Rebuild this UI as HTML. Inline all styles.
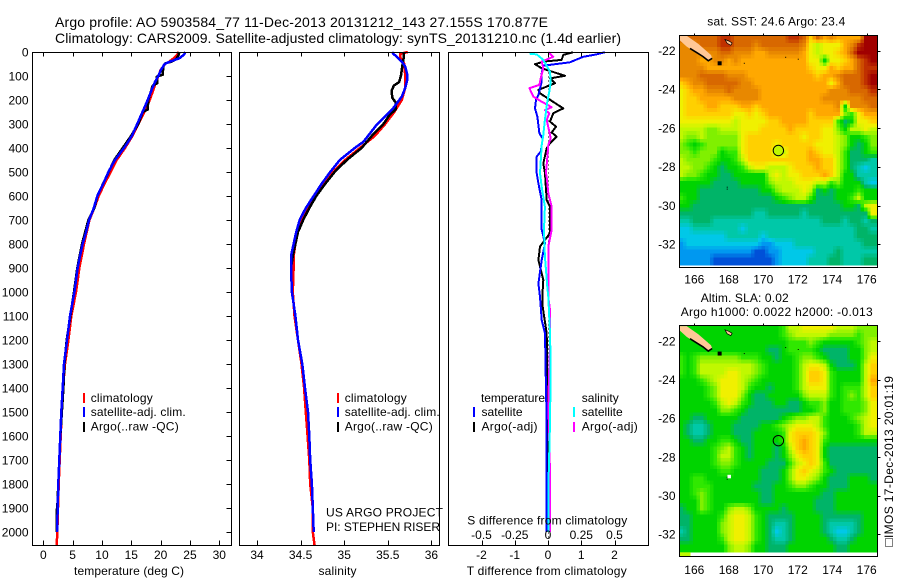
<!DOCTYPE html>
<html lang="en">
<head>
<meta charset="utf-8">
<title>Argo profile 5903584_77</title>
<style>
html,body{margin:0;padding:0;background:#fff;}
svg{display:block;}
text{font-family:"Liberation Sans",sans-serif;font-size:12px;fill:#000;}
</style>
</head>
<body>
<svg id="chart" width="900" height="580" viewBox="0 0 900 580" xmlns="http://www.w3.org/2000/svg">
<rect x="0" y="0" width="900" height="580" fill="#fff"/>
<text x="55" y="27" textLength="493" style="font-size:14px">Argo profile: AO 5903584_77 11-Dec-2013 20131212_143 27.155S 170.877E</text>
<text x="55" y="43" textLength="566" style="font-size:14px">Climatology: CARS2009. Satellite-adjusted climatology: synTS_20131210.nc (1.4d earlier)</text>
<g id="panelT"></g>
<g id="panelS"></g>
<g id="panelD"></g>
<g id="mapSST"></g>
<g id="mapSLA"></g>
<text x="74" y="575" textLength="110">temperature (deg C)</text>
<text x="318.5" y="575" textLength="38">salinity</text>
<text x="466.7" y="575" textLength="160">T difference from climatology</text>
<text x="467.3" y="524.3" textLength="160">S difference from climatology</text>
<text x="326" y="516.7" textLength="117">US ARGO PROJECT</text>
<text x="326" y="531" textLength="114">PI: STEPHEN RISER</text>
<g>
<line x1="84" x2="84" y1="393" y2="403" stroke="#f00" stroke-width="2"/>
<line x1="84" x2="84" y1="407" y2="417" stroke="#00f" stroke-width="2"/>
<line x1="84" x2="84" y1="422" y2="432" stroke="#000" stroke-width="2"/>
<text x="90.7" y="402" textLength="62">climatology</text>
<text x="90.7" y="416" textLength="95">satellite-adj. clim.</text>
<text x="90.7" y="430.5" textLength="88">Argo(..raw -QC)</text>
</g>
<g>
<line x1="338" x2="338" y1="393" y2="403" stroke="#f00" stroke-width="2"/>
<line x1="338" x2="338" y1="407" y2="417" stroke="#00f" stroke-width="2"/>
<line x1="338" x2="338" y1="422" y2="432" stroke="#000" stroke-width="2"/>
<text x="344.7" y="402" textLength="62">climatology</text>
<text x="344.7" y="416" textLength="95">satellite-adj. clim.</text>
<text x="344.7" y="430.5" textLength="88">Argo(..raw -QC)</text>
</g>
<g>
<text x="481" y="402" textLength="64">temperature</text>
<text x="581.7" y="402" textLength="37">salinity</text>
<line x1="474" x2="474" y1="407" y2="417" stroke="#00f" stroke-width="2"/>
<line x1="474" x2="474" y1="422" y2="432" stroke="#000" stroke-width="2"/>
<line x1="574" x2="574" y1="407" y2="417" stroke="#0ff" stroke-width="2"/>
<line x1="574" x2="574" y1="422" y2="432" stroke="#f0f" stroke-width="2"/>
<text x="481.5" y="416" textLength="41">satellite</text>
<text x="481.5" y="430.5" textLength="56">Argo(-adj)</text>
<text x="581.7" y="416" textLength="41">satellite</text>
<text x="581.7" y="430.5" textLength="56">Argo(-adj)</text>
</g>
<text x="707.3" y="25.5" textLength="138">sat. SST: 24.6 Argo: 23.4</text>
<text x="700.7" y="302" textLength="88">Altim. SLA: 0.02</text>
<text x="680.7" y="316" textLength="192">Argo h1000: 0.0022 h2000: -0.013</text>
<g>
<rect x="885.5" y="538.5" width="7" height="8" fill="#fff" stroke="#000" stroke-width="1" stroke-dasharray="1 1" shape-rendering="crispEdges"/>
<text transform="translate(893,538) rotate(-90)" x="0" y="0" textLength="162">IMOS 17-Dec-2013 20:01:19</text>
</g>
</svg>
<script>
// ---- temperature panel data ----
const tempDepths = [0,10,25,40,50,75,100,125,150,200,250,300,350,400,450,500,550,600,650,700,750,800,850,900,950,1000,1100,1200,1300,1400,1500,1600,1700,1800,1900,2000,2056];
const tempClim = [23.02,22.85,22.28,21.48,20.74,20.0,19.61,19.21,18.87,18.13,17.22,16.2,15.18,13.93,12.51,11.48,10.4,9.44,8.7,7.85,7.39,6.94,6.54,6.14,5.86,5.57,4.78,4.27,3.7,3.36,3.13,2.96,2.79,2.62,2.51,2.39,2.28];
const tempSatDepths = [0,10,25,40,50,75,100,125,150,200,250,300,350,400,450,500,550,600,650,700,750,800,850,900,950,1000,1100,1200,1300,1400,1500,1600,1700,1800,1900,2000];
const tempSat = [24.2,24.0,23.3,21.6,20.7,20.05,19.6,19.04,18.6,17.8,16.9,16.0,15.1,13.75,12.2,11.1,10.2,9.2,8.6,7.8,7.3,6.7,6.25,5.85,5.57,5.3,4.55,4.04,3.53,3.3,3.07,2.9,2.73,2.56,2.45,2.34];
const tempArgoDepths = [0,15,30,40,48,60,95,103,130,140,200,240,250,300,350,400,450,500,600,650,700,800,900,1000,1200,1300,1400,1600,1800,1900,1905,2000];
const tempArgo = [23.19,23.02,22.62,21.88,20.74,20.46,20.35,19.32,19.44,18.64,17.9,17.79,16.94,16.2,14.95,13.53,12.11,11.14,9.21,8.7,7.68,6.6,5.8,5.23,3.98,3.59,3.42,2.9,2.56,2.39,2.28,2.34];
const tempTicks = [0,5,10,15,20,25,30];

// ---- salinity panel data ----
const salClimDepths = [0,8,20,50,100,150,200,250,300,350,400,450,500,550,600,650,700,750,800,850,900,1000,1100,1200,1300,1400,1500,1600,1700,1800,1900,2000,2056];
const salClim = [35.73,35.64,35.64,35.69,35.70,35.70,35.66,35.575,35.47,35.35,35.18,35.01,34.875,34.76,34.665,34.59,34.51,34.47,34.44,34.42,34.42,34.41,34.43,34.47,34.51,34.54,34.56,34.58,34.6,34.61,34.64,34.64,34.66];
const salSatDepths = [0,6,19,40,61,89,120,150,186,235,304,374,400,450,500,550,600,650,700,750,800,850,900,1000,1100,1200,1300,1400,1500,1600,1700,1800,1900,2000];
const salSat = [35.55,35.56,35.6,35.66,35.7,35.72,35.72,35.7,35.66,35.56,35.37,35.22,35.12,34.95,34.84,34.74,34.65,34.56,34.49,34.45,34.42,34.39,34.39,34.40,34.44,34.47,34.52,34.55,34.585,34.60,34.61,34.63,34.64,34.65];
const salArgoDepths = [0,30,50,100,125,140,160,190,210,240,260,300,350,400,450,500,550,600,650,700,750,800,850,900,1000];
const salArgo = [35.68,35.68,35.67,35.65,35.63,35.57,35.545,35.55,35.59,35.59,35.525,35.45,35.315,35.2,35.03,34.89,34.78,34.68,34.6,34.53,34.47,34.44,34.41,34.39,34.40];
const salTicks = [34,34.5,35,35.5,36];

// ---- difference panel data ----
const diffTSatDepths = [1,10,20,43,57,89,124,179,200,235,270,339,360,415,436,505,547,617,690,740,797,867,964,1020,1117,1172,1408,1546,2000];
const diffTSat = [1.71,1.46,1.06,0.66,-0.14,-0.19,-0.19,-0.29,-0.36,-0.39,-0.32,-0.26,-0.16,-0.22,-0.34,-0.34,-0.29,-0.19,-0.19,-0.19,-0.09,-0.19,-0.29,-0.24,-0.19,-0.09,-0.06,-0.04,-0.04];
const diffTArgoDepths = [1,12,33,40,51,68,99,110,130,158,172,235,255,290,311,335,353,380,401,464,505,617,645,755,811,867,950,1020,1062,1172,1340,2000];
const diffTArgo = [0.76,0.46,0.41,-0.14,-0.39,-0.19,0.51,0.06,0.21,-0.29,-0.24,0.46,0.16,0.06,0.24,0.11,0.26,0.06,-0.04,-0.14,-0.09,-0.04,0.06,0.06,-0.24,-0.29,-0.14,-0.17,-0.16,-0.04,-0.02,-0.02];
const diffSSatDepths = [7,10,33,82,124,165,207,283,346,388,505,562,645,740,852,978,1020,1172,1311,1546,1825,2000];
const diffSSat = [-0.14,-0.085,-0.035,0.015,0.02,0.01,-0.005,-0.023,-0.035,-0.047,-0.06,-0.047,-0.023,-0.03,-0.023,-0.005,0.002,0.015,0.02,0.015,0.002,0.002];
const diffSArgoDepths = [1,20,40,68,110,137,151,186,207,230,242,255,283,346,360,388,505,520,588,645,740,811,1020,1075,1228,1450,1755,2000];
const diffSArgo = [0.002,0.04,-0.047,-0.035,-0.055,-0.065,-0.14,-0.11,-0.047,0.028,-0.023,0.01,-0.01,0.015,0.02,0.002,-0.015,-0.01,0.002,0.028,0.028,0.002,0.002,0.015,0.015,0.002,0.015,0.015];
const diffTTicks = [-2,-1,0,1,2];
const diffSTicks = [-0.5,-0.25,0,0.25,0.5];
const diffSTickLabels = ['-0.5','-0.25','0','0.25','0.5'];

// ---- shared depth ticks ----
const depthTicks = [0,100,200,300,400,500,600,700,800,900,1000,1100,1200,1300,1400,1500,1600,1700,1800,1900,2000];

// ---- map data: SST / SLA colour levels, rows north to south ----
const paletteLevels = ['#0050d8','#0098f0','#00c8e8','#00c8a8','#00b468','#00d400','#30e800','#80f000','#c0f800','#f0f000','#ffd000','#ffa800','#e88800','#d86800','#c03000','#a00000'];
const sstGrid = [
[13,13,13,13,13,13,14,14,13,13,13,13,13,13,13,13,14,14,13,10,13,11,12,11,11,11,11,15,15],
[12,12,12,13,13,13,14,14,13,13,13,12,13,13,13,13,13,13,12,9,8,9,9,9,11,12,14,15,15],
[12,12,12,12,12,12,13,13,12,12,12,11,11,12,12,12,12,12,11,9,8,9,9,10,11,13,15,15,15],
[12,12,12,11,11,12,12,11,12,11,11,11,11,11,11,11,11,11,11,9,9,5,9,9,10,11,13,14,15],
[12,12,12,12,11,11,11,11,11,11,11,11,11,11,11,11,11,11,11,10,9,9,11,10,11,11,13,14,14],
[12,12,12,13,13,13,13,12,12,12,11,11,11,11,11,11,11,11,11,11,10,11,11,12,13,13,13,14,15],
[10,11,12,12,13,13,13,13,13,12,12,11,11,11,11,11,11,11,11,11,11,11,9,11,13,13,13,14,15],
[9,10,11,11,12,12,12,13,12,12,12,12,11,11,11,11,11,11,11,11,11,11,12,12,12,13,13,13,14],
[9,10,10,11,11,11,11,11,12,12,12,12,11,11,11,11,11,11,11,11,11,12,12,12,12,12,12,13,13],
[9,10,10,10,11,11,10,10,10,11,11,10,11,11,11,11,11,11,11,11,11,11,11,12,5,12,12,12,13],
[9,10,10,10,10,10,10,10,9,9,10,9,10,11,11,11,11,11,11,10,11,11,11,11,7,6,9,11,11],
[9,9,9,9,9,9,9,9,8,9,9,9,9,10,10,11,11,11,11,10,10,10,10,6,4,5,9,9,10],
[8,8,8,8,7,7,8,8,8,9,9,9,10,10,10,10,11,10,10,10,10,9,9,7,5,8,8,9,8],
[8,7,7,8,7,7,7,7,7,9,10,10,10,10,10,10,10,10,9,10,10,9,9,8,7,5,5,6,7],
[7,6,5,6,7,7,7,7,7,9,10,10,10,10,9,10,10,10,10,10,9,9,9,8,7,5,4,5,7],
[7,7,6,7,7,7,5,6,6,9,10,10,10,10,8,8,10,10,10,11,10,9,9,8,6,4,4,5,6],
[8,7,7,7,7,6,5,5,6,8,10,10,10,10,10,10,10,10,10,11,11,10,10,8,6,4,4,4,3],
[8,8,7,7,6,5,4,5,5,6,8,9,9,8,8,8,9,10,10,10,11,10,10,8,6,4,3,2,3],
[8,7,7,6,5,5,4,4,5,5,5,5,5,8,9,8,9,9,10,10,10,11,10,8,5,5,3,3,3],
[5,5,5,5,5,4,4,4,4,5,5,5,5,7,8,8,8,9,9,9,8,8,6,7,5,5,5,3,2],
[5,5,5,4,4,4,4,4,4,4,4,4,5,5,7,8,8,8,9,8,4,5,4,5,5,5,6,5,5],
[6,5,5,4,4,4,4,4,4,4,4,4,4,4,5,6,7,8,8,6,4,4,4,5,5,6,8,5,5],
[5,5,4,4,4,4,4,4,4,4,4,4,4,4,4,4,4,4,4,4,4,4,4,4,5,5,4,8,9],
[4,4,4,4,4,4,4,4,4,4,4,3,3,4,4,4,4,4,3,4,4,4,4,4,4,4,4,4,9],
[3,3,4,4,4,3,3,3,3,3,3,3,3,3,3,3,3,3,3,3,3,4,4,4,3,4,4,3,4],
[2,2,3,3,3,3,3,3,3,2,3,3,3,3,3,3,3,3,3,3,3,3,3,3,3,3,4,4,3],
[2,2,2,2,2,2,2,3,3,3,3,3,2,3,3,3,3,3,3,3,3,3,3,3,3,3,4,4,4],
[1,2,2,2,2,2,2,2,2,2,2,2,1,1,2,2,2,3,3,3,3,3,3,3,3,3,3,4,4],
[1,1,1,1,1,1,1,1,1,1,1,0,0,1,1,2,2,2,2,2,3,3,3,4,3,3,3,3,3],
[1,1,1,1,1,0,0,0,0,0,0,0,0,0,1,2,2,2,2,3,3,3,4,4,3,3,3,4,4]
];
const slaGrid = [
[5,5,5,5,5,5,5,5,5,5,5,5,5,5,5,6,8,8,9,9,9,9,9,8,8,8,7,7,7],
[5,5,5,5,5,5,5,5,5,5,5,5,5,5,5,6,7,8,8,8,8,8,7,7,7,7,6,7,7],
[5,5,5,5,5,5,5,5,5,5,5,5,5,5,5,5,6,6,6,7,6,5,5,5,5,5,6,7,8],
[5,5,5,5,5,5,5,5,5,5,5,5,5,4,4,5,6,6,6,6,5,4,4,4,4,5,5,7,8],
[6,5,6,7,7,7,7,7,7,6,6,6,5,5,4,5,5,6,7,7,6,5,4,4,4,5,5,7,9],
[6,5,6,8,8,8,8,8,8,8,8,7,6,5,5,5,5,6,8,9,9,8,5,4,4,4,5,8,10],
[6,5,6,8,8,8,8,9,9,8,8,7,6,5,5,5,5,6,8,10,10,9,6,5,5,5,5,8,10],
[5,5,5,6,7,8,9,9,9,8,7,6,5,5,5,5,5,6,8,10,10,9,6,5,5,5,5,8,11],
[5,5,5,5,6,7,9,9,9,8,6,5,5,4,5,5,5,6,8,9,9,9,6,5,6,6,6,8,10],
[5,5,5,5,6,7,9,9,9,7,5,4,4,5,5,5,5,5,7,8,8,8,6,5,6,7,6,8,10],
[5,5,5,5,5,6,8,9,8,6,5,4,4,4,5,5,4,4,5,6,6,7,5,5,6,6,6,7,9],
[5,5,5,5,5,5,7,7,6,5,4,4,4,4,4,4,4,4,5,5,6,7,5,5,6,6,6,7,9],
[5,5,4,4,5,5,5,5,5,4,4,4,4,4,4,5,6,7,7,8,8,6,5,5,5,6,7,8,9],
[5,4,3,3,4,5,5,5,4,4,4,4,5,5,6,7,8,9,9,9,8,6,5,5,5,5,6,8,9],
[5,4,3,3,4,5,5,5,4,4,4,5,5,5,5,6,9,10,10,10,9,7,5,5,5,5,6,8,8],
[5,5,4,4,5,5,6,6,5,4,4,5,5,5,5,6,9,10,11,10,9,6,5,5,5,5,5,5,5],
[5,5,5,5,5,6,7,8,6,5,4,5,5,5,4,5,8,10,11,10,9,5,4,4,4,4,4,4,4],
[5,5,5,5,5,6,8,8,6,5,4,5,5,5,4,5,7,9,10,10,9,5,4,4,4,4,4,4,4],
[5,5,5,5,5,6,7,7,6,5,5,5,5,4,4,4,6,8,9,10,9,6,4,4,4,4,4,4,4],
[5,5,5,5,5,5,6,6,5,5,5,5,4,4,4,5,7,9,10,9,8,6,5,4,4,4,4,4,4],
[5,5,6,6,5,5,5,5,5,5,5,5,4,4,4,5,7,9,9,8,7,5,4,4,4,5,5,5,4],
[5,5,6,6,6,5,5,5,5,5,5,4,4,4,5,5,6,7,7,6,5,5,4,4,4,5,5,5,5],
[5,5,6,7,6,5,5,5,5,5,5,5,4,4,5,5,5,5,5,5,5,4,4,5,5,5,5,5,5],
[5,5,5,7,6,5,5,5,5,5,5,5,4,4,5,5,5,5,5,5,4,4,4,5,5,5,5,5,5],
[4,5,5,7,6,5,5,7,8,8,7,5,5,5,5,4,5,5,5,5,4,4,4,5,5,5,5,5,5],
[4,4,5,5,5,5,6,8,9,9,8,6,5,4,4,4,4,5,5,5,5,4,4,4,4,4,4,5,5],
[4,4,5,5,5,5,7,8,9,9,8,6,5,4,3,3,4,5,5,5,5,4,3,3,3,3,4,5,5],
[3,4,5,5,5,5,7,8,9,9,8,6,5,4,2,3,4,5,5,5,5,4,3,2,2,3,4,5,5],
[4,4,5,5,5,5,6,8,9,9,8,6,5,4,3,3,4,5,5,5,5,5,4,3,3,4,5,5,5],
[5,5,5,5,5,5,5,7,8,8,7,5,5,4,4,4,5,5,5,5,5,5,5,4,4,5,5,5,5]
];
const lonTicks = [166,168,170,172,174,176];
const latTicks = [-22,-24,-26,-28,-30,-32];
const floatLon = 170.877;
const floatLat = -27.155;
const coastLon = [165.15,165.56,166.23,166.97,167.04,166.81,166.23,165.56,165.15];
const coastLat = [-21.23,-21.23,-21.65,-22.22,-22.39,-22.52,-22.17,-21.79,-21.45];
const shoreLon = [165.75,166.14,166.5,166.81,167.04];
const shoreLat = [-21.88,-22.1,-22.3,-22.52,-22.39];
const islandLon = [167.78,168.0,168.19,168.12,167.9];
const islandLat = [-21.42,-21.5,-21.6,-21.72,-21.62];
const reefLon = [167.47,168.9,171.3,172.03,167.91,167.91];
const reefLat = [-22.65,-22.65,-22.34,-22.44,-29.05,-29.15];
const reefSize = [4,1,1,1,1,1];

const NS = 'http://www.w3.org/2000/svg';
function mk(tag, parent){
  const el = document.createElementNS(NS, tag);
  parent.appendChild(el);
  return el;
}
function seg(parent, x1, y1, x2, y2, name){
  const el = mk('line', parent);
  el.setAttribute('x1', x1);
  el.setAttribute('y1', y1);
  el.setAttribute('x2', x2);
  el.setAttribute('y2', y2);
  el.setAttribute('stroke', '#000');
  el.setAttribute('stroke-width', 1);
  el.setAttribute('shape-rendering', 'crispEdges');
  
  
  return el;
}
function label(parent, x, y, str, anchor, name){
  const el = mk('text', parent);
  el.setAttribute('x', x);
  el.setAttribute('y', y);
  el.setAttribute('text-anchor', anchor);
  el.textContent = str;
  
  
  return el;
}
function frame(parent, x0, y0, x1, y1, name){
  const el = mk('rect', parent);
  el.setAttribute('x', x0);
  el.setAttribute('y', y0);
  el.setAttribute('width', x1 - x0);
  el.setAttribute('height', y1 - y0);
  el.setAttribute('fill', 'none');
  el.setAttribute('stroke', '#000');
  el.setAttribute('stroke-width', 1);
  el.setAttribute('shape-rendering', 'crispEdges');
  
  
}
function profile(parent, xs, ds, xFn, colour, width, name){
  const el = mk('polyline', parent);
  const pts = [];
  for (let i = 0; i < xs.length; i++) pts.push(xFn(xs[i]).toFixed(1) + ',' + depthY(ds[i]).toFixed(1));
  el.setAttribute('points', pts.join(' '));
  el.setAttribute('fill', 'none');
  el.setAttribute('stroke', colour);
  el.setAttribute('stroke-width', width);
  el.setAttribute('stroke-linejoin', 'round');
  el.setAttribute('shape-rendering', 'crispEdges');
  
  
}

// ---- axis functions ----
function depthY(d){ return 52 + d * 0.24; }
function tempX(t){ return 43.3 + t * 5.867; }
function salX(s){ return 257 + (s - 34) * 87.2; }
function diffTX(v){ return 548 + v * 33.25; }
function diffSX(v){ return 548 + v * 133; }

const TOP = 52.5, BOT = 545.5;

// temperature panel
const pT = document.getElementById('panelT');
profile(pT, tempClim, tempDepths, tempX, '#f00', 2.5, 'temperature-climatology-line');
profile(pT, tempArgo, tempArgoDepths, tempX, '#000', 2.5, 'temperature-argo-line');
profile(pT, tempSat, tempSatDepths, tempX, '#00f', 2.5, 'temperature-satellite-line');
frame(pT, 32.5, TOP, 231.5, BOT, 'temperature-frame');
tempTicks.forEach(function(t){
  const x = Math.round(tempX(t)) + 0.5;
  seg(pT, x, TOP, x, TOP + 4, 'temperature-tick-top');
  seg(pT, x, BOT, x, BOT - 5, 'temperature-tick-bottom');
  label(pT, tempX(t), 559, String(t), 'middle', 'temperature-tick-label');
});
depthTicks.forEach(function(d){
  const y = Math.round(depthY(d)) + 0.5;
  seg(pT, 231.5, y, 226.5, y, 'depth-tick');
  label(pT, 28.5, depthY(d) + 4.3, String(d), 'end', 'depth-tick-label');
});

// salinity panel
const pS = document.getElementById('panelS');
profile(pS, salClim, salClimDepths, salX, '#f00', 2.5, 'salinity-climatology-line');
profile(pS, salArgo, salArgoDepths, salX, '#000', 2.5, 'salinity-argo-line');
profile(pS, salSat, salSatDepths, salX, '#00f', 2.5, 'salinity-satellite-line');
frame(pS, 239.5, TOP, 439.5, BOT, 'salinity-frame');
salTicks.forEach(function(s){
  const x = Math.round(salX(s)) + 0.5;
  seg(pS, x, TOP, x, TOP + 4, 'salinity-tick-top');
  seg(pS, x, BOT, x, BOT - 5, 'salinity-tick-bottom');
  label(pS, salX(s), 559, String(s), 'middle', 'salinity-tick-label');
});

// difference panel
const pD = document.getElementById('panelD');
const zero = seg(pD, 548.5, TOP, 548.5, BOT, 'zero-line');
zero.setAttribute('stroke-dasharray', '1 3');
profile(pD, diffTArgo, diffTArgoDepths, diffTX, '#000', 2, 'difference-t-argo-line');
profile(pD, diffTSat, diffTSatDepths, diffTX, '#00f', 2, 'difference-t-satellite-line');
profile(pD, diffSArgo, diffSArgoDepths, diffSX, '#f0f', 2, 'difference-s-argo-line');
profile(pD, diffSSat, diffSSatDepths, diffSX, '#0ff', 2, 'difference-s-satellite-line');
frame(pD, 448.5, TOP, 648.5, BOT, 'difference-frame');
diffTTicks.forEach(function(v){
  const x = Math.round(diffTX(v)) + 0.5;
  seg(pD, x, BOT, x, BOT - 5, 'difference-t-tick');
  label(pD, diffTX(v), 559, String(v), 'middle', 'difference-t-tick-label');
});
diffSTicks.forEach(function(v, i){
  const x = Math.round(diffSX(v)) + 0.5;
  seg(pD, x, TOP, x, TOP + 4, 'difference-s-tick');
  label(pD, diffSX(v), 539, diffSTickLabels[i], 'middle', 'difference-s-tick-label');
});

// maps
const MAP_L = 679.5, MAP_R = 877.5;
function lonX(lon){ return 694.3 + (lon - 166) * 17.24; }
function levelAt(grid, r, c){
  const r0 = Math.min(Math.floor(r), grid.length - 1), r1 = Math.min(r0 + 1, grid.length - 1);
  const row0 = grid[r0], row1 = grid[r1];
  const c0 = Math.min(Math.floor(c), row0.length - 1), c1 = Math.min(c0 + 1, row0.length - 1);
  const fr = r - Math.floor(r), fc = c - Math.floor(c);
  return (row0[c0] * (1 - fc) + row0[c1] * fc) * (1 - fr) + (row1[c0] * (1 - fc) + row1[c1] * fc) * fr;
}
function colourAt(level){
  const lv = Math.max(0, Math.min(paletteLevels.length - 1, level));
  const i = Math.min(Math.floor(lv), paletteLevels.length - 2), f = lv - i;
  const a = paletteLevels[i], b = paletteLevels[i + 1];
  const out = [1, 3, 5].map(function(p){
    const u = parseInt(a.substr(p, 2), 16), v = parseInt(b.substr(p, 2), 16);
    return Math.round(u + (v - u) * f);
  });
  return 'rgb(' + out.join(',') + ')';
}
function drawMap(id, grid, cfg){
  const g = document.getElementById(id);
  const latY = function(lat){ return cfg.y22 + (-22 - lat) * cfg.latScale; };
  const rows = grid.length, cols = grid[0].length, sub = cfg.sub;
  const cw = (MAP_R - MAP_L) / cols / sub, ch = (cfg.gridBottom - cfg.top) / rows / sub;
  for (let r = 0; r < rows * sub; r++){
    for (let c = 0; c < cols * sub; c++){
      const lv = levelAt(grid, r / sub, c / sub);
      const cell = mk('rect', g);
      cell.setAttribute('x', (MAP_L + c * cw).toFixed(2));
      cell.setAttribute('y', (cfg.top + r * ch).toFixed(2));
      cell.setAttribute('width', (cw + 0.4).toFixed(2));
      cell.setAttribute('height', (ch + 0.4).toFixed(2));
      cell.setAttribute('fill', colourAt(lv));
      cell.setAttribute('shape-rendering', 'crispEdges');
      
      
    }
  }
  if (cfg.strip){
    const st = mk('rect', g);
    st.setAttribute('x', MAP_L);
    st.setAttribute('y', cfg.gridBottom);
    st.setAttribute('width', cfg.strip);
    st.setAttribute('height', 3.7);
    st.setAttribute('fill', '#c0f800');
    
    
  }
  const polyPts = function(lons, lats){
    return lons.map(function(lon, i){ return lonX(lon).toFixed(1) + ',' + latY(lats[i]).toFixed(1); }).join(' ');
  };
  const coast = mk('polygon', g);
  coast.setAttribute('points', polyPts(coastLon, coastLat));
  coast.setAttribute('fill', '#ffc896');
  
  
  const shore = mk('polyline', g);
  shore.setAttribute('points', polyPts(shoreLon, shoreLat));
  shore.setAttribute('fill', 'none');
  shore.setAttribute('stroke', '#000');
  shore.setAttribute('stroke-width', 1.6);
  
  
  const isle = mk('polygon', g);
  isle.setAttribute('points', polyPts(islandLon, islandLat));
  isle.setAttribute('fill', '#ffc896');
  isle.setAttribute('stroke', '#000');
  isle.setAttribute('stroke-width', 0.7);
  
  
  reefLon.forEach(function(lon, i){
    const d = mk('rect', g);
    d.setAttribute('x', lonX(lon) - reefSize[i] / 2);
    d.setAttribute('y', latY(reefLat[i]) - reefSize[i] / 2);
    d.setAttribute('width', reefSize[i]);
    d.setAttribute('height', reefSize[i]);
    d.setAttribute('fill', '#000');
    
    
  });
  if (cfg.whiteSpot){
    const w = mk('rect', g);
    w.setAttribute('x', lonX(168.01) - 1.5);
    w.setAttribute('y', latY(-29.0) - 1.5);
    w.setAttribute('width', 3.5);
    w.setAttribute('height', 3.5);
    w.setAttribute('fill', '#fff');
    
    
  }
  const circ = mk('circle', g);
  circ.setAttribute('cx', lonX(floatLon));
  circ.setAttribute('cy', latY(floatLat));
  circ.setAttribute('r', 5.2);
  circ.setAttribute('fill', cfg.circleFill);
  circ.setAttribute('stroke', '#000');
  circ.setAttribute('stroke-width', 1);
  
  
  frame(g, MAP_L, cfg.top, MAP_R, cfg.bottom, cfg.prefix + '-frame');
  lonTicks.forEach(function(lon){
    const x = Math.round(lonX(lon)) + 0.5;
    seg(g, x, cfg.top, x, cfg.top - 2, 'longitude-tick');
    label(g, lonX(lon), cfg.labelY, String(lon), 'middle', 'longitude-tick-label');
  });
  latTicks.forEach(function(lat){
    const y = Math.round(latY(lat)) + 0.5;
    seg(g, MAP_R, y, MAP_R + 3, y, 'latitude-tick');
    label(g, 675.5, latY(lat) + 4.3, String(lat), 'end', 'latitude-tick-label');
  });
}
drawMap('mapSST', sstGrid, {prefix:'sst', top:35.5, bottom:267.5, gridBottom:265, y22:50.7, latScale:19.36, sub:2, circleFill:'#c0f800', labelY:283.5, strip:0, whiteSpot:false});
drawMap('mapSLA', slaGrid, {prefix:'sla', top:325.5, bottom:556.5, gridBottom:552.3, y22:341, latScale:19.33, sub:2, circleFill:'none', labelY:574, strip:11, whiteSpot:true});
</script>
</body>
</html>
